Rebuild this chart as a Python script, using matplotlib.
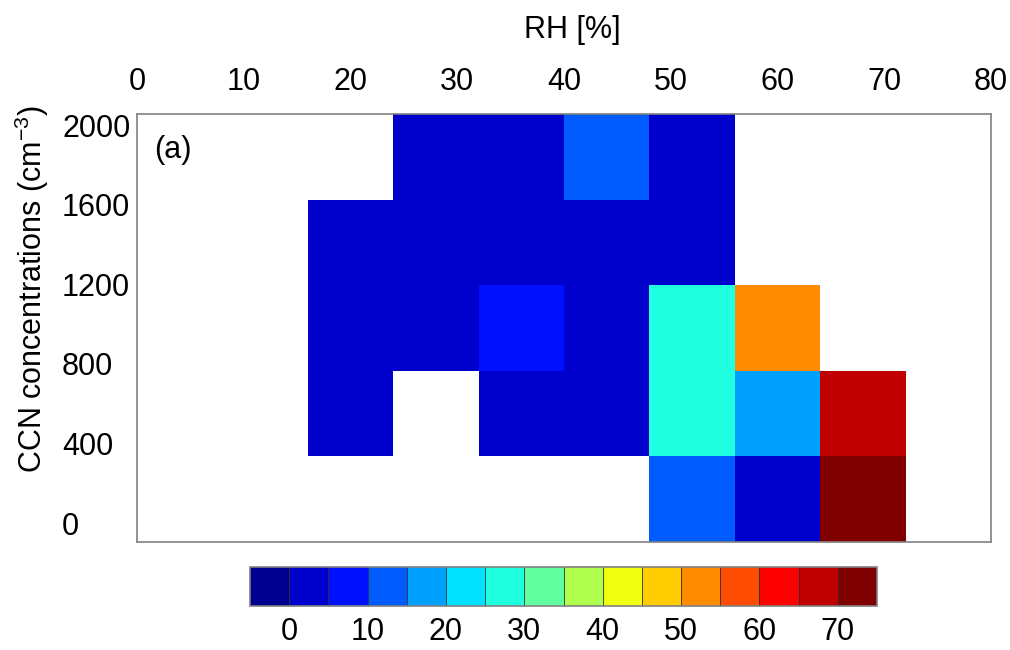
import numpy as np
import matplotlib
matplotlib.use("Agg")
import matplotlib.pyplot as plt
from matplotlib.colors import BoundaryNorm, ListedColormap

plt.rcParams['font.family'] = ['Liberation Sans', 'DejaVu Sans']
plt.rcParams['mathtext.default'] = 'regular'

# tick labels
rh_labels = [0, 10, 20, 30, 40, 50, 60, 70, 80]
ccn_labels = [0, 400, 800, 1200, 1600, 2000]
cbar_labels = [0, 10, 20, 30, 40, 50, 60, 70]

# colour class boundaries (16 classes)
levels = np.arange(-5, 80, 5)

# cell values, 10 RH columns, one list per CCN row
nan = np.nan
row_2000 = [nan, nan, nan, 3, 3, 12, 3, nan, nan, nan]
row_1600 = [nan, nan, 3, 3, 3, 3, 3, nan, nan, nan]
row_1200 = [nan, nan, 3, 3, 7, 3, 27, 52, nan, nan]
row_800 = [nan, nan, 3, nan, 3, 3, 27, 17, 67, nan]
row_0 = [nan, nan, nan, nan, nan, nan, 12, 3, 72, nan]

values = np.array([row_0, row_800, row_1200, row_1600, row_2000])
n_rows, n_cols = values.shape

# jet-like palette as in the original figure
jet16 = ['#000090', '#0000cc', '#0010ff', '#005cff', '#00a0ff', '#00e0ff',
         '#20ffdf', '#60ff9f', '#b0ff4f', '#f0ff10', '#ffcc00', '#ff8c00',
         '#ff4c00', '#ff0000', '#c00000', '#800000']
cmap = ListedColormap(jet16)
norm = BoundaryNorm(levels, cmap.N)

fig = plt.figure(figsize=(10.1, 6.5), dpi=100)
W, H = 1010, 650
ax = fig.add_axes([137 / W, (H - 542) / H, 854 / W, 428 / H])

ax.pcolormesh(np.arange(n_cols + 1), np.arange(n_rows + 1),
              np.ma.masked_invalid(values), cmap=cmap, norm=norm)
ax.set_xlim(0, n_cols)
ax.set_ylim(0, n_rows)

# x ticks on top, spread over the full width
ax.xaxis.tick_top()
ax.set_xticks(np.linspace(0, n_cols, len(rh_labels)))
ax.set_xticklabels([str(v) for v in rh_labels])
ax.set_yticks(np.linspace(0.22, 4.87, len(ccn_labels)))
ax.set_yticklabels([str(v) for v in ccn_labels], ha='left')
ax.tick_params(axis='x', length=0, pad=12, labelsize=22)
# left aligned y labels, starting ~75 px left of the axes
ax.tick_params(axis='y', length=0, pad=75 * 72 / 100, labelsize=22)

ax.xaxis.set_label_position('top')
ax.set_xlabel('RH [%]', fontsize=22)
ax.xaxis.set_label_coords((572 - 137) / 854, (542 - 30) / 428)
ax.xaxis.label.set_va('center')
ax.set_ylabel('CCN concentrations (cm$^{-3}$)', fontsize=22)
ax.yaxis.set_label_coords(-(137 - 32) / 854, (542 - 289) / 428)
ax.yaxis.label.set_va('center')

for s in ax.spines.values():
    s.set_color('#808080')
    s.set_linewidth(1.2)

ax.text(0.02, 0.915, '(a)', transform=ax.transAxes, fontsize=22,
        ha='left', va='center')

# colorbar
cax = fig.add_axes([250 / W, (H - 606) / H, 627 / W, 39 / H])
sm = matplotlib.cm.ScalarMappable(norm=norm, cmap=cmap)
cb = fig.colorbar(sm, cax=cax, orientation='horizontal', drawedges=True,
                  ticks=cbar_labels)
cb.ax.minorticks_off()
cb.ax.set_xticklabels([str(v) for v in cbar_labels])
cb.ax.tick_params(which='both', length=0, labelsize=22, pad=8)
cb.outline.set_edgecolor('#808080')
cb.outline.set_linewidth(1.2)
cb.dividers.set_color('#303030')
cb.dividers.set_linewidth(0.6)

fig.savefig('out.png', dpi=100)
